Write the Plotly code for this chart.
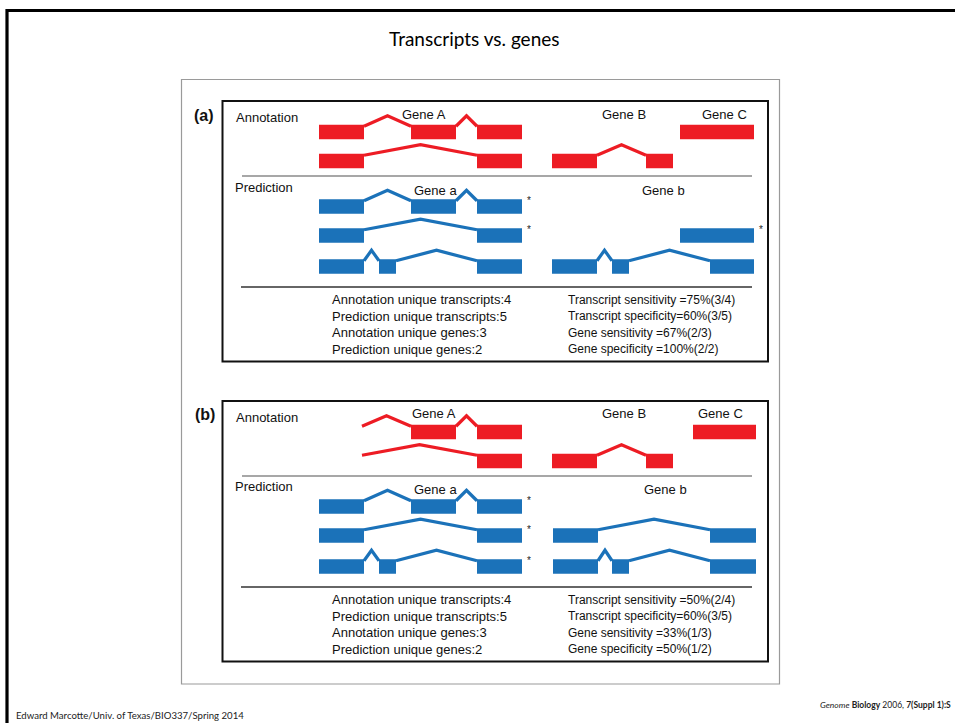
import plotly.graph_objects as go

# ---------------------------------------------------------------------------
# Gene models (exon start/end along the drawn genomic axis)
# each transcript: (track index, exon list, marked-as-correct flag)
# track 0/1 = annotation rows, track 2/3/4 = prediction rows
# ---------------------------------------------------------------------------
GENE_A1 = [(319, 364), (411, 456), (477, 522)]
GENE_A2 = [(319, 364), (477, 522)]
GENE_A3 = [(319, 364), (379, 396), (477, 522)]

panel_a_annotation = [
    (0, GENE_A1, False),
    (1, GENE_A2, False),
    (1, [(552, 597), (646, 673)], False),   # Gene B
    (0, [(680, 754)], False),               # Gene C
]
panel_a_prediction = [
    (2, GENE_A1, True),
    (3, GENE_A2, True),
    (4, GENE_A3, False),
    (3, [(680, 754)], True),
    (4, [(552, 597), (612, 629), (710, 754)], False),
]

panel_b_annotation = [
    (0, [(362, 362), (411, 456), (477, 522)], False),  # 5' end truncated
    (1, [(362, 362), (477, 522)], False),
    (1, [(552, 597), (646, 673)], False),
    (0, [(693, 756)], False),
]
panel_b_prediction = [
    (2, GENE_A1, True),
    (3, GENE_A2, True),
    (4, GENE_A3, True),
    (3, [(553, 598), (710, 756)], False),
    (4, [(553, 598), (612, 629), (710, 756)], False),
]

# Summary statistics printed under each panel
a_counts = ["Annotation unique transcripts:4", "Prediction unique transcripts:5",
            "Annotation unique genes:3", "Prediction unique genes:2"]
a_scores = ["Transcript sensitivity =75%(3/4)", "Transcript specificity=60%(3/5)",
            "Gene sensitivity =67%(2/3)", "Gene specificity =100%(2/2)"]
b_counts = ["Annotation unique transcripts:4", "Prediction unique transcripts:5",
            "Annotation unique genes:3", "Prediction unique genes:2"]
b_scores = ["Transcript sensitivity =50%(2/4)", "Transcript specificity=60%(3/5)",
            "Gene sensitivity =33%(1/3)", "Gene specificity =50%(1/2)"]

# Gene name labels: (text, x, track-label row)
a_gene_labels = [("Gene A", 424, "ann"), ("Gene B", 624, "ann"), ("Gene C", 724, "ann"),
                 ("Gene a", 435, "pred"), ("Gene b", 663, "pred")]
b_gene_labels = [("Gene A", 434, "ann"), ("Gene B", 624, "ann"), ("Gene C", 720, "ann"),
                 ("Gene a", 435, "pred"), ("Gene b", 665, "pred")]

# ---------------------------------------------------------------------------
# layout constants
# ---------------------------------------------------------------------------
W, H = 955, 723
RED = "#ED1C24"
BLUE = "#1B72B9"
TRACK_Y = [132, 161, 206.5, 235.5, 266.5]   # track centres in panel (a)
PANEL_SHIFT = [0, 300]
EXON_H = 14.5
INTRON_RISE = 10.5
SANS = "Liberation Sans, Arial, sans-serif"
HUMANIST = "Lato, Open Sans, sans-serif"

fig = go.Figure()
shapes = []
annotations = []


def add_text(text, x, y, size=13, anchor="left", color="#111", family=SANS, yanchor="middle"):
    annotations.append(dict(text=text, x=x, y=y, xref="x", yref="y", showarrow=False,
                            xanchor=anchor, yanchor=yanchor,
                            font=dict(size=size, color=color, family=family)))


def draw_transcripts(items, color, shift):
    for track, exons, star in items:
        yc = TRACK_Y[track] + shift
        top = yc - EXON_H / 2
        for x0, x1 in exons:
            if x1 > x0:
                shapes.append(dict(type="rect", xref="x", yref="y", x0=x0, x1=x1,
                                   y0=top, y1=top + EXON_H, fillcolor=color,
                                   line=dict(width=0), layer="above"))
        for (s0, e0), (s1, e1) in zip(exons[:-1], exons[1:]):
            fig.add_trace(go.Scatter(
                x=[e0, (e0 + s1) / 2, s1],
                y=[top + 1.5, top - INTRON_RISE + 1.5, top + 1.5],
                mode="lines", line=dict(color=color, width=3.2),
                hoverinfo="skip", showlegend=False))
        if star:
            add_text("*", exons[-1][1] + 3, top + 1.5, size=10, color="#222")


# outer slide frame
shapes.append(dict(type="rect", xref="x", yref="y", x0=7, y0=10.5, x1=970, y1=740,
                   line=dict(color="#000", width=3.2)))
# figure border
shapes.append(dict(type="rect", xref="x", yref="y", x0=181.5, y0=79.5, x1=779.5, y1=684,
                   line=dict(color="#9a9a9a", width=1.2)))

panel_data = [
    ("(a)", panel_a_annotation, panel_a_prediction, a_counts, a_scores, a_gene_labels),
    ("(b)", panel_b_annotation, panel_b_prediction, b_counts, b_scores, b_gene_labels),
]

for (tag, ann, pred, counts, scores, labels), shift in zip(panel_data, PANEL_SHIFT):
    # panel box
    shapes.append(dict(type="rect", xref="x", yref="y", x0=222.5, y0=101 + shift,
                       x1=768, y1=361.5 + shift, line=dict(color="#111", width=2)))
    # separators
    shapes.append(dict(type="line", xref="x", yref="y", x0=242, x1=752,
                       y0=176 + shift, y1=176 + shift, line=dict(color="#8a8a8a", width=1.3)))
    shapes.append(dict(type="line", xref="x", yref="y", x0=241, x1=752,
                       y0=287 + shift, y1=287 + shift, line=dict(color="#333", width=1.5)))
    add_text("<b>" + tag + "</b>", 203.5 + 1.5 * (shift > 0), 115 + shift - 1 * (shift > 0),
             size=16, anchor="center")
    add_text("Annotation", 233.5, 117.5 + shift, size=13)
    add_text("Prediction", 233, 187 + shift - 1 * (shift > 0), size=13)
    for text, x, row in labels:
        add_text(text, x, (114 if row == "ann" else 190) + shift - 0.5 * (shift > 0),
                 size=13, anchor="center")
    draw_transcripts(ann, RED, shift)
    draw_transcripts(pred, BLUE, shift)
    for i, (c, s) in enumerate(zip(counts, scores)):
        y = 299.5 + 16.5 * i + shift
        add_text(c, 330, y, size=13)
        add_text(s, 566, y, size=12)

# slide title and footers
add_text("Transcripts vs. genes", 474, 38, size=19, anchor="center",
         family=HUMANIST, color="#000")
add_text("Edward Marcotte/Univ. of Texas/BIO337/Spring 2014", 14, 715, size=9.6,
         family=HUMANIST, color="#222")
add_text("<i>Genome</i> <b>Biology</b> 2006, <b>7(Suppl 1):S</b>", 953, 704.5, size=8.5,
         anchor="right", family=HUMANIST, color="#222")

fig.update_layout(
    width=W, height=H, autosize=False,
    margin=dict(l=0, r=0, t=0, b=0),
    paper_bgcolor="white", plot_bgcolor="white",
    xaxis=dict(range=[0, W], visible=False, fixedrange=True),
    yaxis=dict(range=[H, 0], visible=False, fixedrange=True),
    shapes=shapes, annotations=annotations, showlegend=False,
)

fig.write_html("out.html")
